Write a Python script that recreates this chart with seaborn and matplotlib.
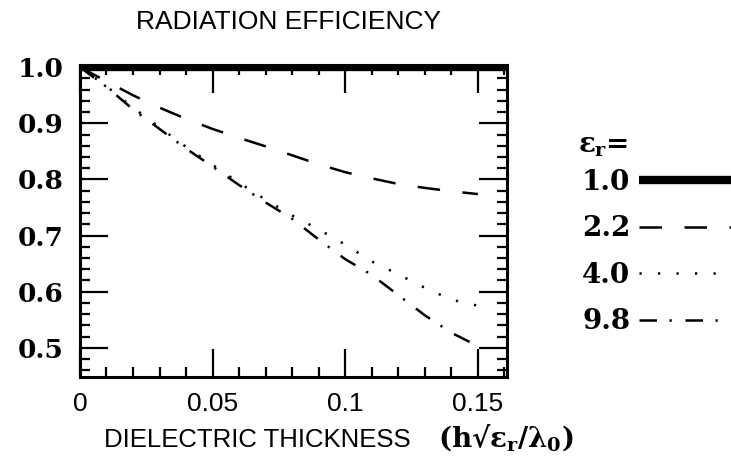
import matplotlib
matplotlib.use('Agg')
import matplotlib.pyplot as plt
import numpy as np
import pandas as pd
import seaborn as sns
from matplotlib.ticker import MultipleLocator

# dielectric thickness h*sqrt(er)/lambda0
thickness = [0.0, 0.01, 0.02, 0.03, 0.04, 0.05, 0.06, 0.07, 0.08,
             0.09, 0.10, 0.11, 0.12, 0.13, 0.14, 0.15]
eff_2_2 = [1.0, 0.975, 0.950, 0.928, 0.908, 0.890, 0.874, 0.859, 0.843,
           0.827, 0.813, 0.802, 0.792, 0.785, 0.779, 0.774]
eff_4_0 = [1.0, 0.966, 0.928, 0.893, 0.858, 0.826, 0.794, 0.764, 0.736,
           0.711, 0.684, 0.654, 0.631, 0.607, 0.586, 0.575]
eff_9_8 = [1.0, 0.965, 0.925, 0.890, 0.855, 0.823, 0.790, 0.759, 0.730,
           0.693, 0.658, 0.630, 0.594, 0.558, 0.527, 0.503]
# er = 1.0 runs at full efficiency across the whole axis
thickness_1_0 = [0.0, 0.161]
eff_1_0 = [1.0, 1.0]
er_labels = ['1.0', '2.2', '4.0', '9.8']

x_ticks = [0, 0.05, 0.1, 0.15]
x_ticklabels = ['0', '0.05', '0.1', '0.15']
y_ticks = [0.5, 0.6, 0.7, 0.8, 0.9, 1.0]


def main():
    sns.set_style('white')
    plt.rcParams['font.family'] = ['Liberation Sans', 'DejaVu Sans']
    plt.rcParams['text.color'] = 'black'
    plt.rcParams['xtick.color'] = 'black'
    plt.rcParams['ytick.color'] = 'black'
    plt.rcParams['mathtext.fontset'] = 'custom'
    plt.rcParams['mathtext.rm'] = 'DejaVu Serif:bold'
    plt.rcParams['mathtext.it'] = 'DejaVu Serif:bold'
    plt.rcParams['mathtext.bf'] = 'DejaVu Serif:bold'

    xs = {'1.0': thickness_1_0, '2.2': thickness, '4.0': thickness, '9.8': thickness}
    ys = {'1.0': eff_1_0, '2.2': eff_2_2, '4.0': eff_4_0, '9.8': eff_9_8}
    df = pd.concat([pd.DataFrame({'x': xs[k], 'eff': ys[k], 'er': k})
                    for k in er_labels], ignore_index=True)

    fig = plt.figure(figsize=(7.31, 4.59), dpi=100)
    ax = fig.add_axes([0.1094, 0.1786, 0.5842, 0.6798])

    styles = {'1.0': dict(lw=6.0, ls='-', solid_capstyle='butt'),
              '2.2': dict(lw=1.8, ls=(0, (9, 9))),
              '4.0': dict(lw=1.8, ls=(0, (0.9, 6.5))),
              '9.8': dict(lw=1.8, ls=(0, (7, 5, 0.9, 5.5)))}
    for lab in er_labels:
        sub = df[df['er'] == lab]
        sns.lineplot(data=sub, x='x', y='eff', ax=ax, color='black',
                     label=lab, **styles[lab])

    ax.set_xlim(0, 0.161)
    ax.set_ylim(0.448, 1.004)
    ax.set_xticks(x_ticks)
    ax.set_xticklabels(x_ticklabels, fontsize=19)
    ax.set_yticks(y_ticks)
    ax.set_yticklabels([f'{v:.1f}' for v in y_ticks], fontsize=19,
                       fontweight='bold', family='DejaVu Serif')
    ax.xaxis.set_minor_locator(MultipleLocator(0.01))
    ax.yaxis.set_minor_locator(MultipleLocator(0.02))
    ax.tick_params(which='both', direction='in', top=True, right=True,
                   bottom=True, left=True, color='black', width=1.6)
    ax.tick_params(which='major', length=20)
    ax.tick_params(axis='y', which='major', pad=12)
    ax.tick_params(axis='x', which='major', pad=11)
    ax.tick_params(which='minor', length=7)
    for sp in ax.spines.values():
        sp.set_color('black')
        sp.set_linewidth(2.2)
    ax.set_xlabel('')
    ax.set_ylabel('')

    fig.text(0.394, 0.952, 'RADIATION EFFICIENCY', ha='center', va='center',
             fontsize=19)
    fig.text(0.142, 0.042, 'DIELECTRIC THICKNESS', ha='left', va='center',
             fontsize=18.5)
    fig.text(0.599, 0.046, r'(h√$\epsilon_r$/$\lambda_0$)', ha='left', va='center',
             fontsize=20, fontweight='bold', family='DejaVu Serif')

    # legend title drawn as its own text so it sits close to the first row
    fig.text(0.791, 0.684, r'$\epsilon_r$=', ha='left', va='center',
             fontsize=20, fontweight='bold', family='DejaVu Serif')
    leg = ax.legend(loc='upper left', bbox_to_anchor=(0.796, 0.632),
                    bbox_transform=fig.transFigure, borderaxespad=0,
                    borderpad=0, frameon=False, markerfirst=False,
                    fontsize=20, handlelength=3.5, handletextpad=0.33,
                    labelspacing=0.7)
    for t in leg.get_texts():
        t.set_fontweight('bold')
        t.set_family('DejaVu Serif')

    fig.savefig('out.png', dpi=100)


if __name__ == '__main__':
    main()
